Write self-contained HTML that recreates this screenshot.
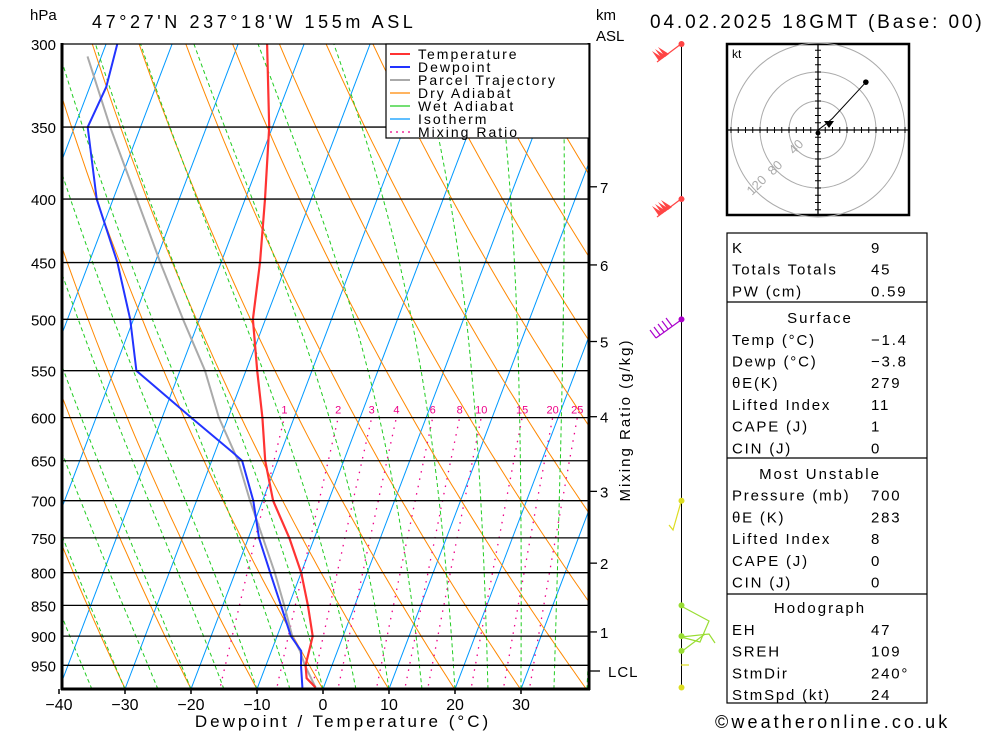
<!DOCTYPE html>
<html><head><meta charset="utf-8"><style>
body{margin:0;background:#fff;}
svg{display:block;font-family:"Liberation Sans",sans-serif;}
</style></head><body>
<svg id="c" width="1000" height="733" viewBox="0 0 1000 733" xmlns="http://www.w3.org/2000/svg">
<defs><clipPath id="pc"><rect x="62" y="44" width="526" height="645"/></clipPath></defs>
<g id="bg" clip-path="url(#pc)"></g>
<g id="prof" clip-path="url(#pc)"></g>
<g id="axes"></g>
<text x="30" y="20" font-size="15">hPa</text>
<text x="92" y="28" font-size="18" letter-spacing="3.6">47°27'N  237°18'W  155m  ASL</text>
<text x="596" y="20" font-size="15">km</text>
<text x="596" y="41" font-size="15">ASL</text>
<text x="650" y="28" font-size="19" letter-spacing="2.9">04.02.2025  18GMT  (Base: 00)</text>
<text x="343" y="727" font-size="17" text-anchor="middle" letter-spacing="3">Dewpoint / Temperature (°C)</text>
<text x="715" y="728" font-size="18" letter-spacing="3.1">©weatheronline.co.uk</text>
<text transform="translate(630,420) rotate(-90)" font-size="15" text-anchor="middle" letter-spacing="2">Mixing Ratio (g/kg)</text>
<g id="legend"></g>
<g id="wind"></g>
<g id="hodo"></g>
<g id="table"></g>
</svg>
<script>
// ---- data ----
const tempP = [990,973,950,900,850,800,750,700,650,600,550,500,450,400,350,300];
const tempT = [-1.2,-3.1,-4.0,-4.6,-7.1,-10.0,-13.8,-18.4,-21.9,-24.8,-28.3,-31.9,-34.1,-37.0,-40.5,-45.6];
const dewP = [990,950,925,900,850,800,750,700,650,640,600,550,500,450,400,350,325,300];
const dewT = [-3.2,-4.7,-5.5,-7.9,-11.2,-14.7,-18.4,-21.4,-25.4,-27.3,-35.6,-46.6,-50.5,-55.7,-62.5,-68.0,-67.5,-68.3];
const parP = [990,950,925,900,850,800,750,700,650,600,550,500,450,400,350,307];
const parT = [-1.2,-4.1,-5.7,-7.7,-10.7,-14.0,-17.8,-21.9,-26.0,-31.4,-36.2,-42.5,-49.2,-56.4,-64.6,-72.1];
const pressureTicks = [300,350,400,450,500,550,600,650,700,750,800,850,900,950];
const tempTicks = [-40,-30,-20,-10,0,10,20,30];
const kmTicks = [1,2,3,4,5,6,7];
const kmPressure = [893,786,688,599,521,452,391];
const mixRatios = [1,2,3,4,6,8,10,15,20,25];
const windP = [300,400,500,700,850,900,925,990];
const windColor = ['#f44','#f44','#a0c','#dd2','#9d3','#9d3','#9d3','#dd2'];
const tableRows = [["K","9"],["Totals Totals","45"],["PW (cm)","0.59"],["#Surface",""],["Temp (°C)","\u22121.4"],["Dewp (°C)","\u22123.8"],["θE(K)","279"],["Lifted Index","11"],["CAPE (J)","1"],["CIN (J)","0"],["#Most Unstable",""],["Pressure (mb)","700"],["θE (K)","283"],["Lifted Index","8"],["CAPE (J)","0"],["CIN (J)","0"],["#Hodograph",""],["EH","47"],["SREH","109"],["StmDir","240°"],["StmSpd (kt)","24"]];
const hodoU = [0,4,10,33];
const hodoV = [0,3,8,33];

// ---- axes functions ----
const NS="http://www.w3.org/2000/svg";
const Y0=44, K=539, XB=323, SC=6.6, SK=0.38, YB=689;
function yP(p){return Y0+K*Math.log(p/300);}
function xT(t,p){return XB+t*SC+SK*(YB-yP(p));}
function mk(tag,attrs,parent){const e=document.createElementNS(NS,tag);for(const k in attrs)e.setAttribute(k,attrs[k]);parent.appendChild(e);return e;}
function poly(pts){return pts.map(q=>q[0].toFixed(1)+","+q[1].toFixed(1)).join(" ");}
const bg=document.getElementById('bg'), prof=document.getElementById('prof'), axes=document.getElementById('axes');

// isotherms
for(let t=-130;t<=40;t+=10){
  const l=mk('line',{x1:xT(t,1000),y1:yP(1000),x2:xT(t,290),y2:yP(290),stroke:'#09f','stroke-width':1},bg);
  
  
}
// dry adiabats
for(let th=203.7;th<=480;th+=10){
  const pts=[];for(let p=1000;p>=290;p-=10){pts.push([xT(th*Math.pow(p/1000,0.286)-273.15,p),yP(p)]);}
  const l=mk('polyline',{points:poly(pts),fill:'none',stroke:'#f80','stroke-width':1},bg);
  
  
}
// wet adiabats
function es(tc){return 6.112*Math.exp(17.67*tc/(tc+243.5));}
for(let t0=-45;t0<=45;t0+=5){
  let T=t0+273.15, p=993; const pts=[[xT(t0,p),yP(p)]];
  while(p>290){
    const rs=0.622*es(T-273.15)/(p-es(T-273.15));
    const dTdp=(287*T+2.5e6*rs)/(p*(1004+2.5e6*2.5e6*rs*0.622/(287*T*T)));
    T-=dTdp*5; p-=5; pts.push([xT(T-273.15,p),yP(p)]);
  }
  const l=mk('polyline',{points:poly(pts),fill:'none',stroke:'#2c2','stroke-width':1,'stroke-dasharray':'4,3'},bg);
  
  
}
// mixing ratio
mixRatios.forEach(w=>{
  const pts=[];
  for(let p=1000;p>=600;p-=10){const e=w*p/(622+w);const L=Math.log(e/6.112);pts.push([xT(243.5*L/(17.67-L),p)+10+w*0.4,yP(p)]);}
  const l=mk('polyline',{points:poly(pts),fill:'none',stroke:'#e08','stroke-width':1.3,'stroke-dasharray':'1.5,6'},bg);
  
  
  const e=w*600/(622+w);const L=Math.log(e/6.112);
  const tx=mk('text',{x:xT(243.5*L/(17.67-L),600)+10+w*0.4,y:yP(600)-4,'font-size':11,fill:'#e08','text-anchor':'middle'},axes);
  tx.textContent=w;
  
  
});
// profiles
function prof_line(P,T,col,w,name){
  const l=mk('polyline',{points:poly(P.map((p,i)=>[xT(T[i],p),yP(p)])),fill:'none',stroke:col,'stroke-width':w,'stroke-linejoin':'round'},prof);
  
  
}
prof_line(parP,parT,'#aaa',2,'parcel-trajectory-line');
prof_line(dewP,dewT,'#23f',2,'dewpoint-line');
prof_line(tempP,tempT,'#f33',2.2,'temperature-line');
// pressure lines & labels
pressureTicks.forEach(p=>{
  const l=mk('line',{x1:62,x2:588,y1:yP(p),y2:yP(p),stroke:'#000','stroke-width':1.3},axes);
  
  
  const t=mk('text',{x:56,y:yP(p)+6,'font-size':15,'text-anchor':'end'},axes);t.textContent=p;
  
  
});
tempTicks.forEach(t=>{
  const x=XB+t*SC;
  mk('line',{x1:x,x2:x,y1:689,y2:694,stroke:'#000','stroke-width':1.5},axes);
  const tx=mk('text',{x:x,y:710,'font-size':16,'text-anchor':'middle'},axes);tx.textContent=(t<0?'\u2212':'')+Math.abs(t);
  
  
});
mk('line',{x1:62,x2:62,y1:43,y2:690,stroke:'#000','stroke-width':3},axes);
mk('line',{x1:61,x2:590,y1:689,y2:689,stroke:'#000','stroke-width':3},axes);
mk('line',{x1:589,x2:589,y1:43,y2:690,stroke:'#000','stroke-width':3},axes);
kmTicks.forEach((k,i)=>{
  const y=yP(kmPressure[i]);
  mk('line',{x1:589,x2:597,y1:y,y2:y,stroke:'#000','stroke-width':1.3},axes);
  const t=mk('text',{x:600,y:y+6,'font-size':15},axes);t.textContent=k;
  
  
});
mk('line',{x1:589,x2:600,y1:671,y2:671,stroke:'#000','stroke-width':1.3},axes);
const lcl=mk('text',{x:608,y:677,'font-size':15,'letter-spacing':1},axes);lcl.textContent='LCL';


// legend
const lg=document.getElementById('legend');
mk('rect',{x:386,y:44,width:203,height:94,fill:'#fff',stroke:'#000','stroke-width':1.2},lg);
[['Temperature','#f33',''],['Dewpoint','#23f',''],['Parcel Trajectory','#aaa',''],['Dry Adiabat','#f80',''],['Wet Adiabat','#2c2',''],['Isotherm','#09f',''],['Mixing Ratio','#e08','2,4']].forEach((e,i)=>{
  const y=54+i*13;
  mk('line',{x1:390,x2:410,y1:y,y2:y,stroke:e[1],'stroke-width':i<3?2:1.2,'stroke-dasharray':e[2]||'none'},lg);
  const t=mk('text',{x:418,y:y+5,'font-size':14,'letter-spacing':2},lg);t.textContent=e[0];
  
  
});
// wind profile
const wd=document.getElementById('wind');
mk('line',{x1:681.5,x2:681.5,y1:44,y2:690,stroke:'#000','stroke-width':1},wd);
windP.forEach((p,i)=>{
  const y=Math.min(yP(p),690);
  const c=mk('circle',{cx:681.5,cy:y,r:3,fill:windColor[i]},wd);
  
  
});
function barb(y,col,n){
  mk('line',{x1:681,y1:y,x2:657,y2:y+18,stroke:col,'stroke-width':1.2},wd);
  for(let k=0;k<n;k++){mk('polygon',{points:`${659+k*3},${y+17-k*2} ${652+k*3},${y+7-k*2} ${663+k*3},${y+14-k*2}`,fill:col},wd);}
}
barb(44,'#f44',3);
barb(199,'#f44',4);
mk('line',{x1:681,y1:320,x2:656,y2:338,stroke:'#a0c','stroke-width':1.2},wd);
for(let k=0;k<5;k++){mk('line',{x1:656+k*4,y1:338-k*3,x2:650+k*4,y2:330-k*3,stroke:'#a0c','stroke-width':1.2},wd);}
mk('polyline',{points:'681,502 673,530 669,525',fill:'none',stroke:'#dd2','stroke-width':1.2},wd);
mk('polyline',{points:'681,606 709,621 700,642 681,637 709,634 715,643',fill:'none',stroke:'#9d3','stroke-width':1.2},wd);
mk('polyline',{points:'681,652 705,634',fill:'none',stroke:'#9d3','stroke-width':1.2},wd);
mk('polyline',{points:'681,665 689,665',fill:'none',stroke:'#dd2','stroke-width':1.2},wd);
// hodograph
const hd=document.getElementById('hodo');
const HX=818,HY=130,HS=29/40;
mk('rect',{x:727,y:44,width:182,height:171,fill:'#fff',stroke:'#000','stroke-width':2.5},hd);
[40,80,120].forEach(r=>mk('circle',{cx:HX,cy:HY,r:r*HS,fill:'none',stroke:'#aaa','stroke-width':1},hd));
mk('line',{x1:728,x2:908,y1:HY,y2:HY,stroke:'#000','stroke-width':1.3},hd);
mk('line',{x1:HX,x2:HX,y1:45,y2:214,stroke:'#000','stroke-width':1.3},hd);
for(let k=-120;k<=120;k+=10){if(!k)continue;const d=k*HS;
  mk('line',{x1:HX+d,x2:HX+d,y1:HY-3,y2:HY+3,stroke:'#000'},hd);
  if(Math.abs(d)<84)mk('line',{x1:HX-3,x2:HX+3,y1:HY+d,y2:HY+d,stroke:'#000'},hd);}
[['40',794,155],['80',773,176],['120',752,196]].forEach(a=>{const t=mk('text',{x:a[1],y:a[2],'font-size':13,fill:'#aaa',transform:`rotate(-45 ${a[1]} ${a[2]})`},hd);t.textContent=a[0];});
const kt=mk('text',{x:732,y:58,'font-size':12},hd);kt.textContent='kt';
mk('polyline',{points:poly(hodoU.map((u,i)=>[HX+u*HS*2,HY-hodoV[i]*HS*2])),fill:'none',stroke:'#000','stroke-width':1},hd);
const hdot=mk('circle',{cx:HX+hodoU[3]*HS*2,cy:HY-hodoV[3]*HS*2,r:2.8,fill:'#000'},hd);


mk('circle',{cx:HX,cy:HY+3,r:2.5,fill:'#000'},hd);
mk('polygon',{points:'824,121 834,121 829,128',fill:'#000'},hd);
// table
const tb=document.getElementById('table');
mk('rect',{x:727,y:233,width:200,height:470,fill:'#fff',stroke:'#000','stroke-width':1.2},tb);
[302,458,594].forEach(y=>mk('line',{x1:727,x2:927,y1:y,y2:y,stroke:'#000','stroke-width':1.2},tb));
tableRows.forEach((r,i)=>{
  const y=253+i*21.7+(i>=3?5:0)+(i>=10?4:0)+(i>=16?4:0);
  if(r[0][0]==='#'){const t=mk('text',{x:820,y:y,'font-size':15,'text-anchor':'middle','letter-spacing':2},tb);t.textContent=r[0].slice(1);
    
    return;}
  const a=mk('text',{x:732,y:y,'font-size':15,'letter-spacing':1.8},tb);a.textContent=r[0];
  
  
  const b=mk('text',{x:871,y:y,'font-size':15,'letter-spacing':1.8},tb);b.textContent=r[1];
  
  
});
</script>
</body></html>
